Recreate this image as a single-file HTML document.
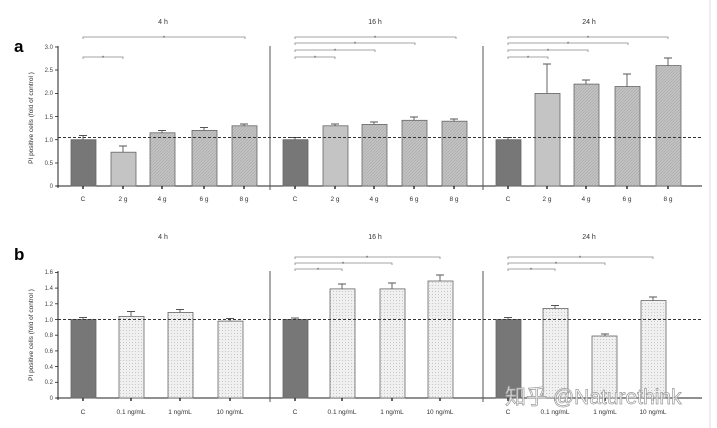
<!DOCTYPE html>
<html><head><meta charset="utf-8"><style>body{margin:0;background:#fff}svg{display:block}</style></head><body>
<svg width="717" height="428" viewBox="0 0 717 428" xmlns="http://www.w3.org/2000/svg" font-family="Liberation Sans, sans-serif">
<defs>
<pattern id="ha" width="3" height="3" patternUnits="userSpaceOnUse"><rect width="3" height="3" fill="#c2c2c2"/><path d="M0 3L3 0" stroke="#a8a8a8" stroke-width="0.6"/></pattern>
<pattern id="hb" width="3" height="3" patternUnits="userSpaceOnUse"><rect width="3" height="3" fill="#f0f0f0"/><rect width="1" height="1" fill="#c8c8c8"/></pattern>
</defs>
<line x1="710" y1="0" x2="710" y2="428" stroke="#ddd"/>
<text x="14" y="52" font-size="17" font-weight="bold">a</text>
<text x="14" y="260" font-size="17" font-weight="bold">b</text>
<g font-size="7" fill="#333" text-anchor="middle">
<text x="163" y="24">4 h</text><text x="375" y="24">16 h</text><text x="589" y="24">24 h</text>
<text x="163" y="239">4 h</text><text x="375" y="239">16 h</text><text x="589" y="239">24 h</text>
</g>
<g font-size="6.5" fill="#333" text-anchor="middle" transform="rotate(-90)">
<text x="-118" y="33">PI positive cells (fold of control )</text>
<text x="-335" y="33">PI positive cells (fold of control )</text>
</g>
<g id="axes" stroke="#222" stroke-width="1" fill="none">
<line x1="58" y1="46" x2="58" y2="188"/><line x1="56" y1="186" x2="702" y2="186"/>
<line x1="270" y1="46" x2="270" y2="190" stroke="#555"/><line x1="483" y1="46" x2="483" y2="190" stroke="#555"/>
<line x1="58" y1="271" x2="58" y2="400"/><line x1="56" y1="398" x2="702" y2="398"/>
<line x1="270" y1="271" x2="270" y2="402" stroke="#555"/><line x1="483" y1="271" x2="483" y2="402" stroke="#555"/>
</g>
<g stroke="#222" stroke-width="0.8">
<line x1="55" y1="186" x2="58" y2="186"/><line x1="55" y1="163" x2="58" y2="163"/><line x1="55" y1="139.7" x2="58" y2="139.7"/><line x1="55" y1="116.5" x2="58" y2="116.5"/><line x1="55" y1="93.4" x2="58" y2="93.4"/><line x1="55" y1="70" x2="58" y2="70"/><line x1="55" y1="47" x2="58" y2="47"/>
<line x1="55" y1="398" x2="58" y2="398"/><line x1="55" y1="382.3" x2="58" y2="382.3"/><line x1="55" y1="366.6" x2="58" y2="366.6"/><line x1="55" y1="350.9" x2="58" y2="350.9"/><line x1="55" y1="335.2" x2="58" y2="335.2"/><line x1="55" y1="319.5" x2="58" y2="319.5"/><line x1="55" y1="303.8" x2="58" y2="303.8"/><line x1="55" y1="288.1" x2="58" y2="288.1"/><line x1="55" y1="272.4" x2="58" y2="272.4"/>
</g>
<g font-size="6" fill="#444" text-anchor="end">
<text x="53" y="188">0</text><text x="53" y="165">0.5</text><text x="53" y="142">1.0</text><text x="53" y="119">1.5</text><text x="53" y="95">2.0</text><text x="53" y="72">2.5</text><text x="53" y="49">3.0</text>
<text x="53" y="400">0</text><text x="53" y="384">0.2</text><text x="53" y="369">0.4</text><text x="53" y="353">0.6</text><text x="53" y="337">0.8</text><text x="53" y="322">1.0</text><text x="53" y="306">1.2</text><text x="53" y="290">1.4</text><text x="53" y="274">1.6</text>
</g>
<!-- panel a bars -->
<g stroke="#666" stroke-width="0.8">
<rect x="71" y="139.7" width="25" height="46.3" fill="#777"/>
<rect x="111" y="152.2" width="25" height="33.8" fill="#c4c4c4"/>
<rect x="150" y="132.8" width="25" height="53.2" fill="url(#ha)"/>
<rect x="192" y="130.4" width="25" height="55.6" fill="url(#ha)"/>
<rect x="232" y="125.8" width="25" height="60.2" fill="url(#ha)"/>
<rect x="283" y="139.7" width="25" height="46.3" fill="#777"/>
<rect x="323" y="125.8" width="25" height="60.2" fill="#c4c4c4"/>
<rect x="362" y="124.4" width="25" height="61.6" fill="url(#ha)"/>
<rect x="402" y="120.3" width="25" height="65.7" fill="url(#ha)"/>
<rect x="442" y="121.2" width="25" height="64.8" fill="url(#ha)"/>
<rect x="496" y="139.7" width="25" height="46.3" fill="#777"/>
<rect x="535" y="93.4" width="25" height="92.6" fill="#c4c4c4"/>
<rect x="574" y="84.1" width="25" height="101.9" fill="url(#ha)"/>
<rect x="615" y="86.5" width="25" height="99.5" fill="url(#ha)"/>
<rect x="656" y="65.6" width="25" height="120.4" fill="url(#ha)"/>
</g>
<g stroke="#555" stroke-width="0.9" fill="none">
<path d="M83 139.7V135.5M79 135.5H87M123 152.2V146M119 146H127M162 132.8V130.5M158 130.5H166M204 130.4V127.5M200 127.5H208M244 125.8V124M240 124H248"/>
<path d="M295 139.7V137.5M291 137.5H299M335 125.8V124M331 124H339M374 124.4V122M370 122H378M414 120.3V117M410 117H418M454 121.2V119M450 119H458"/>
<path d="M508 139.7V137.5M504 137.5H512M547 93.4V64M543 64H551M586 84.1V80M582 80H590M627 86.5V74M623 74H631M668 65.6V58M664 58H672"/>
</g>
<!-- panel b bars -->
<g stroke="#666" stroke-width="0.8">
<rect x="71" y="319.5" width="25" height="78.5" fill="#777"/>
<rect x="119" y="316.4" width="25" height="81.6" fill="url(#hb)"/>
<rect x="168" y="312.4" width="25" height="85.6" fill="url(#hb)"/>
<rect x="218" y="321.1" width="25" height="76.9" fill="url(#hb)"/>
<rect x="283" y="319.5" width="25" height="78.5" fill="#777"/>
<rect x="330" y="288.9" width="25" height="109.1" fill="url(#hb)"/>
<rect x="380" y="288.9" width="25" height="109.1" fill="url(#hb)"/>
<rect x="428" y="281" width="25" height="117" fill="url(#hb)"/>
<rect x="496" y="319.5" width="25" height="78.5" fill="#777"/>
<rect x="543" y="308.5" width="25" height="89.5" fill="url(#hb)"/>
<rect x="592" y="336" width="25" height="62" fill="url(#hb)"/>
<rect x="641" y="300.6" width="25" height="97.4" fill="url(#hb)"/>
</g>
<g stroke="#555" stroke-width="0.9" fill="none">
<path d="M83 319.5V317.5M79 317.5H87M131 316.4V311.5M127 311.5H135M180 312.4V309.5M176 309.5H184M230 321.1V318.5M226 318.5H234"/>
<path d="M295 319.5V318M291 318H299M342 288.9V284M338 284H346M392 288.9V283M388 283H396M440 281V275M436 275H444"/>
<path d="M508 319.5V317.5M504 317.5H512M555 308.5V305.5M551 305.5H559M605 336V334M601 334H609M653 300.6V297M649 297H657"/>
</g>
<!-- dashed lines -->
<line x1="58" y1="137.5" x2="702" y2="137.5" stroke="#333" stroke-dasharray="3,2" stroke-width="1"/>
<line x1="58" y1="319.5" x2="702" y2="319.5" stroke="#333" stroke-dasharray="3,2" stroke-width="1"/>
<!-- x ticks -->
<g stroke="#222" stroke-width="1.4">
<path d="M83 186v3M123 186v3M162 186v3M204 186v3M244 186v3M295 186v3M335 186v3M374 186v3M414 186v3M454 186v3M508 186v3M547 186v3M586 186v3M627 186v3M668 186v3"/>
<path d="M83 398v3M131 398v3M180 398v3M230 398v3M295 398v3M342 398v3M392 398v3M440 398v3M508 398v3M555 398v3M605 398v3M653 398v3"/>
</g>
<g font-size="6.5" fill="#333" text-anchor="middle">
<text x="83" y="201">C</text><text x="123" y="201">2 g</text><text x="162" y="201">4 g</text><text x="204" y="201">6 g</text><text x="244" y="201">8 g</text>
<text x="295" y="201">C</text><text x="335" y="201">2 g</text><text x="374" y="201">4 g</text><text x="414" y="201">6 g</text><text x="454" y="201">8 g</text>
<text x="508" y="201">C</text><text x="547" y="201">2 g</text><text x="586" y="201">4 g</text><text x="627" y="201">6 g</text><text x="668" y="201">8 g</text>
<text x="83" y="414">C</text><text x="131" y="414">0.1 ng/mL</text><text x="180" y="414">1 ng/mL</text><text x="230" y="414">10 ng/mL</text>
<text x="295" y="414">C</text><text x="342" y="414">0.1 ng/mL</text><text x="392" y="414">1 ng/mL</text><text x="440" y="414">10 ng/mL</text>
<text x="508" y="414">C</text><text x="555" y="414">0.1 ng/mL</text><text x="605" y="414">1 ng/mL</text><text x="653" y="414">10 ng/mL</text>
</g>
<!-- brackets -->
<g stroke="#888" stroke-width="0.8" fill="none">
<path d="M83 39V37H245V39M83 59V57H123V59"/>
<path d="M295 39V37H456V39M295 45V43H415V45M295 52V50H375V52M295 59V57H335V59"/>
<path d="M508 39V37H668V39M508 45V43H628V45M508 52V50H588V52M508 59V57H548V59"/>
<path d="M295 259V257H440V259M295 265V263H392V265M295 271V269H342V271"/>
<path d="M508 259V257H653V259M508 265V263H605V265M508 271V269H555V271"/>
</g>
<g font-size="6" fill="#555" text-anchor="middle">
<text x="164" y="40">*</text><text x="103" y="60">*</text>
<text x="375" y="40">*</text><text x="355" y="46">*</text><text x="335" y="53">*</text><text x="315" y="60">*</text>
<text x="588" y="40">*</text><text x="568" y="46">*</text><text x="548" y="53">*</text><text x="528" y="60">*</text>
<text x="367" y="260">*</text><text x="343" y="266">*</text><text x="318" y="272">*</text>
<text x="580" y="260">*</text><text x="556" y="266">*</text><text x="531" y="272">*</text>
</g>
<text x="505" y="404" font-size="21" fill="#fff" fill-opacity="0.75" stroke="#999" stroke-width="0.7" font-family="Liberation Sans, Noto Sans CJK SC, sans-serif">知乎 @Naturethink</text>
</svg>
</body></html>
